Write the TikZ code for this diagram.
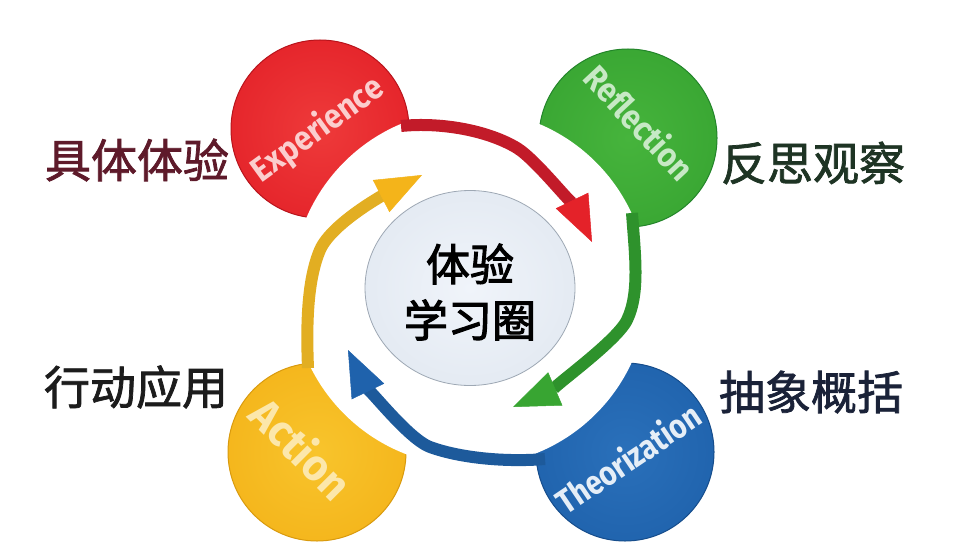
\documentclass[tikz,border=0pt]{standalone}
\usepackage{fontspec}
\newfontfamily\cjk{Noto Sans CJK SC}
\newfontfamily\cjkm[FakeBold=1.6]{Noto Sans CJK SC}
\newfontfamily\cjkc[FakeBold=2.4]{Noto Sans CJK SC}
\newfontfamily\latf{Fira Sans}
\usetikzlibrary{arrows.meta,shapes.geometric}
\definecolor{rmain}{HTML}{E42229}\definecolor{rlight}{HTML}{EE3A3A}\definecolor{rdark}{HTML}{B8141C}
\definecolor{gmain}{HTML}{38A532}\definecolor{glight}{HTML}{46B43C}\definecolor{gdark}{HTML}{23852A}
\definecolor{ymain}{HTML}{F4B41A}\definecolor{ylight}{HTML}{F8C42C}\definecolor{ydark}{HTML}{D99A0E}
\definecolor{bmain}{HTML}{1F62AC}\definecolor{blight}{HTML}{2A70BA}\definecolor{bdark}{HTML}{164D8C}
\definecolor{rband}{HTML}{C21B29}\definecolor{gband}{HTML}{2E922C}\definecolor{bband}{HTML}{1D5A9B}\definecolor{yband}{HTML}{E2AE22}
\definecolor{cw1}{HTML}{F0F4FA}\definecolor{cw2}{HTML}{E0E7F0}\definecolor{cw3}{HTML}{CBD4DF}\definecolor{cw4}{HTML}{9EA8B4}
\definecolor{lred}{HTML}{5E1A2A}\definecolor{lgreen}{HTML}{1E3424}\definecolor{lblue}{HTML}{1A2238}\definecolor{lblack}{HTML}{1C1C1C}
\pgfdeclareradialshading{redsh}{\pgfpoint{0bp}{0bp}}{color(0bp)=(rlight); color(30bp)=(rmain); color(46bp)=(rmain); color(50bp)=(rdark)}
\pgfdeclareradialshading{greensh}{\pgfpoint{0bp}{0bp}}{color(0bp)=(glight); color(30bp)=(gmain); color(46bp)=(gmain); color(50bp)=(gdark)}
\pgfdeclareradialshading{yellowsh}{\pgfpoint{0bp}{0bp}}{color(0bp)=(ylight); color(30bp)=(ymain); color(46bp)=(ymain); color(50bp)=(ydark)}
\pgfdeclareradialshading{bluesh}{\pgfpoint{0bp}{0bp}}{color(0bp)=(blight); color(30bp)=(bmain); color(46bp)=(bmain); color(50bp)=(bdark)}
\pgfdeclareradialshading{centsh}{\pgfpoint{0bp}{0bp}}{color(0bp)=(cw1); color(34bp)=(cw2); color(46bp)=(cw3); color(50bp)=(cw4)}
\begin{document}
\begin{tikzpicture}[x=1pt,y=-1pt,
  blob/.style={circle,minimum size=178pt,inner sep=0pt,draw=#1,line width=1pt},
  band/.style={line width=12pt,draw=#1},
  cjklabel/.style={font=\cjkm\fontsize{46}{46}\selectfont,inner sep=0pt},
  blobtext/.style={font=\latf\bfseries\fontsize{34}{34}\selectfont,inner sep=0pt}
]
\useasboundingbox (0,0) rectangle (957,559);
\fill[white] (0,0) rectangle (957,559);
% blobs
\node[blob=rdark,shading=redsh] (exp) at (320,129) {};
\node[blob=gdark,shading=greensh] (ref) at (628,138) {};
\node[blob=ydark,shading=yellowsh] (act) at (317,452) {};
\node[blob=bdark,shading=bluesh] (the) at (625,452) {};
% white gap around the cycle
\fill[white] (470,288) circle (178);
% connectors
\coordinate (rs) at (401,126); \coordinate (rm) at (517,148); \coordinate (rt) at (592,242);
\coordinate (gs) at (632,213); \coordinate (gm) at (627,320); \coordinate (gt) at (513,407);
\coordinate (bs) at (545,459); \coordinate (bm) at (430,447); \coordinate (bt) at (348,350);
\coordinate (ys) at (308,368); \coordinate (ym) at (320,250); \coordinate (yt) at (422,175);
\draw[band=rband,-{Triangle[width=36pt,length=46pt,line width=0.5pt,fill=rmain,color=rmain]}]
  (rs) .. controls (440,122) and (487,130) .. (rm) .. controls (538,161) and (579,215) .. (rt);
\draw[band=gband,-{Triangle[width=36pt,length=46pt,line width=0.5pt,fill=gmain,color=gmain]}]
  (gs) .. controls (635,255) and (640,293) .. (gm) .. controls (616,343) and (541,395) .. (gt);
\draw[band=bband,-{Triangle[width=36pt,length=46pt,line width=0.5pt,fill=bmain,color=bmain]}]
  (bs) .. controls (510,462) and (463,459) .. (bm) .. controls (406,438) and (361,377) .. (bt);
\draw[band=yband,-{Triangle[width=36pt,length=46pt,line width=0.5pt,fill=ymain,color=ymain]}]
  (ys) .. controls (306,320) and (308,278) .. (ym) .. controls (332,222) and (391,191) .. (yt);
% centre
\node[ellipse,minimum width=210pt,minimum height=195pt,inner sep=0pt,shading=centsh,draw=cw4,line width=0.8pt] (ctr) at (470,288) {};
\node[font=\cjkc\fontsize{44}{56}\selectfont,align=center,inner sep=0pt,text=black] (ctrt) at (470,292) {体验\\学习圈};
% blob texts
\node[blobtext,text=rlight!25!white,rotate=36,xscale=0.9] (expt) at (318,130) {Experience};
\node[blobtext,text=glight!30!white,rotate=-47,xscale=0.9] (reft) at (640,122) {Reflection};
\node[blobtext,text=blight!12!white,rotate=34,xscale=0.85] (thet) at (628,458) {Theorization};
\node[blobtext,text=ylight!40!white,rotate=-45,font=\latf\bfseries\fontsize{44}{44}\selectfont,xscale=0.95] (actt) at (302,448) {Action};
% outer labels
\node[cjklabel,text=lred] (l1) at (137,160) {具体体验};
\node[cjklabel,text=lgreen] (l2) at (813,163) {反思观察};
\node[cjklabel,text=lblue] (l3) at (811,392) {抽象概括};
\node[cjklabel,text=lblack] (l4) at (136,387) {行动应用};
\end{tikzpicture}
\end{document}
